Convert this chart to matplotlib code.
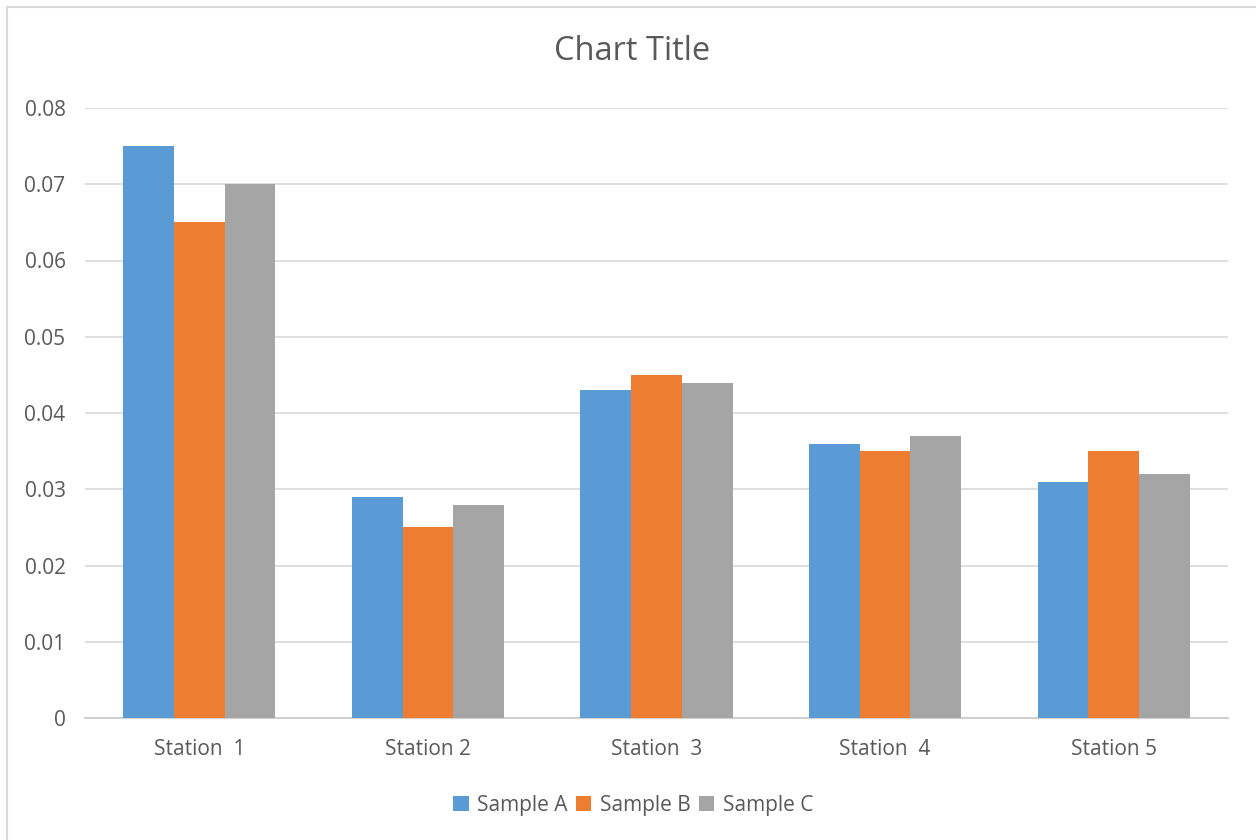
import numpy as np
import matplotlib.pyplot as plt
from matplotlib.patches import Rectangle

stations = ['Station  1', 'Station 2', 'Station  3', 'Station  4', 'Station 5']
sample_a = [0.075, 0.029, 0.043, 0.036, 0.031]
sample_b = [0.065, 0.025, 0.045, 0.035, 0.035]
sample_c = [0.070, 0.028, 0.044, 0.037, 0.032]
series_names = ['Sample A', 'Sample B', 'Sample C']
colors = ['#5b9bd5', '#ed7d31', '#a5a5a5']

plt.rcParams['font.family'] = ['Open Sans', 'DejaVu Sans']
text_color = '#595959'

fig = plt.figure(figsize=(12.56, 8.4), dpi=100)
ax = fig.add_axes([85 / 1256, 1 - 718 / 840, (1228 - 85) / 1256, (718 - 108) / 840])

# chart frame (left and top edges only visible)
fig.patches.append(Rectangle((7 / 1256, -0.01), 1.1, 1 - 7 / 840 + 0.01,
                             transform=fig.transFigure, fill=False,
                             edgecolor='#d9d9d9', linewidth=1.5, zorder=0))

x = np.arange(len(stations))
w = 0.222
for i, (vals, name) in enumerate(zip([sample_a, sample_b, sample_c], series_names)):
    ax.bar(x + (i - 1) * w, vals, width=w, color=colors[i], label=name, zorder=3)

ax.set_xlim(-0.5, len(stations) - 0.5)
ax.set_ylim(0, 0.08)
ax.set_yticks(np.arange(0, 0.081, 0.01))
ax.set_yticklabels(['0'] + [f'{v:.2f}' for v in np.arange(0.01, 0.081, 0.01)])
ax.set_xticks(x)
ax.set_xticklabels(stations)
ax.grid(axis='y', color='#d9d9d9', linewidth=1.2, zorder=0)
for s in ['top', 'right', 'left']:
    ax.spines[s].set_visible(False)
ax.spines['bottom'].set_color('#d0d0d0')
ax.spines['bottom'].set_linewidth(1.5)
ax.tick_params(axis='both', length=0, labelsize=15, labelcolor=text_color)
ax.tick_params(axis='x', pad=15)
ax.tick_params(axis='y', pad=14)

fig.text(632 / 1256, 1 - 51 / 840, 'Chart Title', ha='center', va='center',
         fontsize=23.5, color=text_color)

fig.legend(loc='center', bbox_to_anchor=(633 / 1256, 1 - 805 / 840), ncol=3,
           frameon=False, fontsize=15, labelcolor=text_color, handlelength=0.75,
           handleheight=0.75, handletextpad=0.4, columnspacing=0.4)

fig.savefig('out.png', dpi=100)
